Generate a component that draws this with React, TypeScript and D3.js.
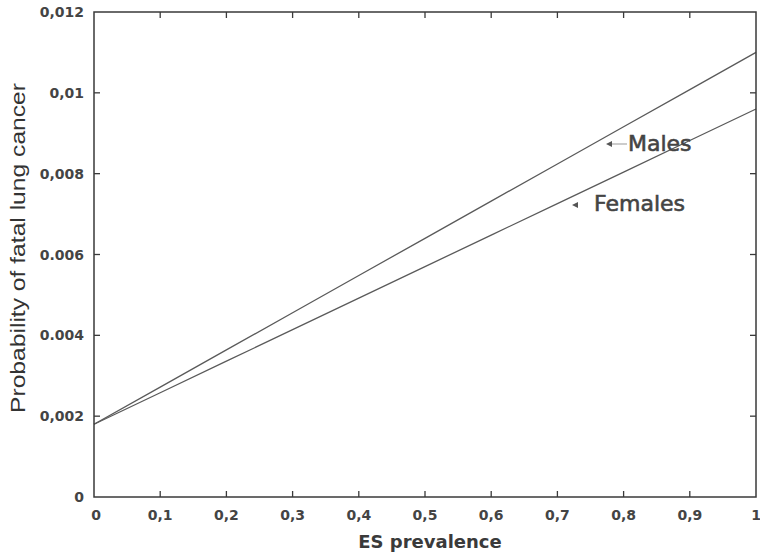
import React from "react";
import * as d3 from "d3";

const prevalence = [0, 0.1, 0.2, 0.3, 0.4, 0.5, 0.6, 0.7, 0.8, 0.9, 1];
const males = [0.0018, 0.00272, 0.00364, 0.00456, 0.00548, 0.0064, 0.00732, 0.00824, 0.00916, 0.01008, 0.011];
const females = [0.0018, 0.00258, 0.00336, 0.00414, 0.00492, 0.0057, 0.00648, 0.00726, 0.00804, 0.00882, 0.0096];

const xTicks = [0, 0.1, 0.2, 0.3, 0.4, 0.5, 0.6, 0.7, 0.8, 0.9, 1];
const xTickLabels = ["0", "0,1", "0,2", "0,3", "0,4", "0,5", "0,6", "0,7", "0,8", "0,9", "1"];
const yTicks = [0, 0.002, 0.004, 0.006, 0.008, 0.01, 0.012];
const yTickLabels = ["0", "0,002", "0.004", "0.006", "0,008", "0,01", "0,012"];

const W = 760;
const H = 556;
const margin = { top: 12, right: 4, bottom: 59, left: 94 };

const x = d3.scaleLinear().domain([0, 1]).range([margin.left, W - margin.right]);
const y = d3.scaleLinear().domain([0, 0.012]).range([H - margin.bottom, margin.top]);

const line = d3
  .line<number>()
  .x((d, i) => x(prevalence[i]))
  .y((d) => y(d));

const tickFont = "'DejaVu Sans', sans-serif";
const ink = "#3a3a3a";
const TL = 6;

export default function App() {
  const x0 = x(0), x1 = x(1), y0 = y(0), y1 = y(0.012);
  return (
    <svg
      width={W}
      height={H}
      style={{ position: "absolute", left: 0, top: 0, background: "#fff" }}
    >
      {/* series */}
      <path d={line(males) ?? ""} fill="none" stroke="#5a5a5a" strokeWidth={1.3} />
      <path d={line(females) ?? ""} fill="none" stroke="#5a5a5a" strokeWidth={1.3} />

      {/* frame */}
      <rect x={x0} y={y1} width={x1 - x0} height={y0 - y1} fill="none" stroke={ink} strokeWidth={1.5} />

      {/* x ticks, bottom and top */}
      {xTicks.map((t, i) => (
        <g key={"x" + i}>
          {i > 0 && i < xTicks.length - 1 && (
            <>
              <line x1={x(t)} x2={x(t)} y1={y0} y2={y0 - TL} stroke={ink} strokeWidth={1.3} />
              <line x1={x(t)} x2={x(t)} y1={y1} y2={y1 + TL} stroke={ink} strokeWidth={1.3} />
            </>
          )}
          <text
            x={x(t) + (i === 0 ? 2 : 0)}
            y={520}
            textAnchor="middle"
            fontFamily={tickFont}
            fontWeight="bold"
            fontSize={14}
            fill="#444"
          >
            {xTickLabels[i]}
          </text>
        </g>
      ))}

      {/* y ticks, left and right */}
      {yTicks.map((t, i) => (
        <g key={"y" + i}>
          {i > 0 && i < yTicks.length - 1 && (
            <>
              <line x1={x0} x2={x0 + TL} y1={y(t)} y2={y(t)} stroke={ink} strokeWidth={1.3} />
              <line x1={x1} x2={x1 - TL} y1={y(t)} y2={y(t)} stroke={ink} strokeWidth={1.3} />
            </>
          )}
          <text
            x={84}
            y={y(t) + 5}
            textAnchor="end"
            fontFamily={tickFont}
            fontWeight="bold"
            fontSize={14}
            fill="#444"
          >
            {yTickLabels[i]}
          </text>
        </g>
      ))}

      {/* axis titles */}
      <text
        x={430}
        y={548}
        textAnchor="middle"
        fontFamily={tickFont}
        fontWeight="bold"
        fontSize={18}
        fill="#3a3a3a"
      >
        ES prevalence
      </text>
      <text
        transform="translate(25,248) rotate(-90)"
        textAnchor="middle"
        fontFamily="'Liberation Sans', Arial, sans-serif"
        fontSize={21}
        fill="#333"
        textLength={330}
        lengthAdjust="spacingAndGlyphs"
      >
        Probability of fatal lung cancer
      </text>

      {/* annotations */}
      <path d="M606,144 L612,141 L612,147 Z" fill="#555" />
      <line x1={612} x2={627} y1={144} y2={144} stroke="#999" strokeWidth={1} />
      <text x={628} y={151} fontFamily={tickFont} fontSize={22} fill="#444" stroke="#444" strokeWidth={0.6}>
        Males
      </text>
      <path d="M572,205 L578,202 L578,208 Z" fill="#555" />
      <text x={594} y={211} fontFamily={tickFont} fontSize={22} fill="#444" stroke="#444" strokeWidth={0.6}>
        Females
      </text>
    </svg>
  );
}
